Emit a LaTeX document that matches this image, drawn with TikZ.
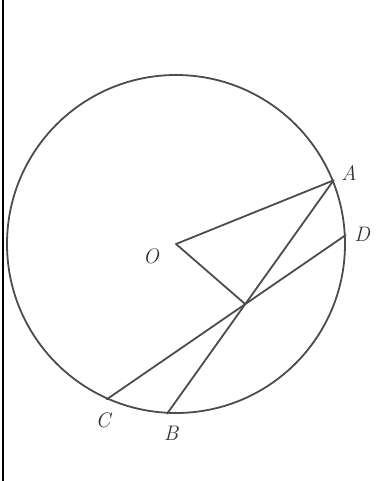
\documentclass[tikz,border=0pt]{standalone}
\usetikzlibrary{calc}
\begin{document}
\begin{tikzpicture}[x=1pt,y=-1pt,
  geo/.style={draw=black!70, line width=1.8pt, line cap=round},
  lbl/.style={font=\fontsize{21}{23}\selectfont\itshape, text=black!80, inner sep=0pt}]
\useasboundingbox (0,0) rectangle (375,481);
\draw[line width=1.6pt] (3,0) coordinate (t1) -- (3,481) coordinate (t2);
\coordinate (O) at (176,244);
\node[geo, circle, minimum size=338pt, inner sep=0pt] (circ) at (O) {};
\coordinate (A) at (circ.22);
\coordinate (D) at (circ.3);
\coordinate (C) at (circ.246.5);
\coordinate (B) at (circ.267);
\coordinate (P) at (intersection of A--B and C--D);
\draw[geo] (O) -- (A);
\draw[geo] (O) -- (P);
\draw[geo] (A) -- (B);
\draw[geo] (C) -- (D);
\node[lbl] (lA) at (349,173) {A};
\node[lbl] (lD) at (362,234) {D};
\node[lbl] (lO) at (151,256) {O};
\node[lbl] (lC) at (103,420) {C};
\node[lbl] (lB) at (171,433) {B};
\end{tikzpicture}
\end{document}
